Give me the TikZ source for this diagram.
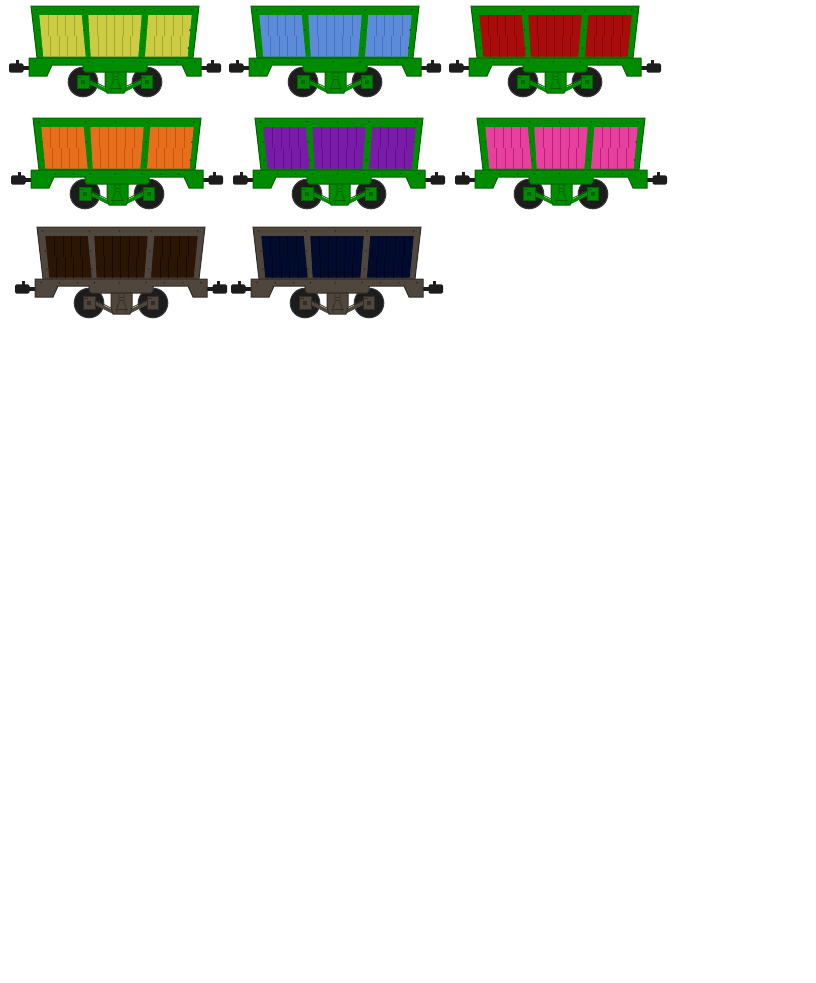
\documentclass[tikz,border=0pt]{standalone}
\usetikzlibrary{calc}
\definecolor{grn}{HTML}{008C00}
\definecolor{grnd}{HTML}{006400}
\definecolor{brn}{HTML}{4F463D}
\definecolor{brnd}{HTML}{332C26}
\definecolor{blk}{HTML}{1C1C1C}
\definecolor{blkr}{HTML}{3A3A3A}
\definecolor{yel}{RGB}{204,204,68}\definecolor{yeld}{RGB}{166,166,48}
\definecolor{blu}{RGB}{91,139,217}\definecolor{blud}{RGB}{72,112,184}
\definecolor{red}{RGB}{170,12,12}\definecolor{redd}{RGB}{132,8,8}
\definecolor{org}{RGB}{232,110,28}\definecolor{orgd}{RGB}{192,88,18}
\definecolor{pur}{RGB}{122,26,168}\definecolor{purd}{RGB}{94,16,136}
\definecolor{pnk}{RGB}{232,64,158}\definecolor{pnkd}{RGB}{184,32,122}
\definecolor{cho}{RGB}{43,21,5}\definecolor{chod}{RGB}{26,10,0}
\definecolor{nav}{RGB}{0,11,46}\definecolor{navd}{RGB}{0,5,24}
\tikzset{
  bodyst/.style={fill=wfr, draw=wfrd, line width=1pt, line join=miter},
  panelst/.style={fill=wpn},
  plankst/.style={draw=wpnd, line width=1pt},
  rivet/.style={fill=wfrd},
  wheelst/.style={fill=blk, draw=blkr, line width=1pt},
  bufst/.style={fill=blk},
}
\newcommand\wpanel[5]{%
  \fill[panelst] #1 -- #2 -- #3 -- #4 -- cycle;
  \coordinate (wm) at (0,29.8);
  \pgfmathtruncatemacro\wnm{#5-1}%
  \foreach \k in {1,...,\wnm}{%
    \pgfmathsetmacro\wf{\k/#5}%
    \coordinate (wa) at ($#1!\wf!#2$);
    \coordinate (wb) at ($#4!\wf!#3$);
    \coordinate (wu) at ($(wa)!0.25!(wb)$);
    \coordinate (wl) at ($(wa)!0.75!(wb)$);
    \draw[plankst] (wu |- wa) -- (wu |- wm) (wl |- wm) -- (wl |- wb);}%
}
\newcommand\rv[2]{\fill[rivet] (#1,#2-1) -- (#1+1,#2) -- (#1,#2+1) -- (#1-1,#2) -- cycle;}
\newcommand\wagon[6]{%
\begin{scope}[shift={(#1,#2)}]
  \colorlet{wfr}{#3}\colorlet{wfrd}{#4}\colorlet{wpn}{#5}\colorlet{wpnd}{#6}%
  % buffers
  \fill[bufst] (-8,59.7) rectangle (-2,64);
  \fill[bufst,rounded corners=1.5pt] (-22,57.3) rectangle (-7.5,66.7);
  \fill[bufst] (-15,54) rectangle (-11.7,58);
  \fill[bufst] (170,59.7) rectangle (176,64);
  \fill[bufst,rounded corners=1.5pt] (175.5,57.3) rectangle (190,66.7);
  \fill[bufst] (179.7,54) rectangle (183,58);
  % wheels
  \draw[wheelst] (52,76) circle (14.8);
  \draw[wheelst] (116,76) circle (14.8);
  % body
  \draw[bodyst] (0,0) -- (168,0) -- (162,52) -- (6,52) -- cycle;
  \wpanel{(8.3,9)}{(50.7,9)}{(54.7,50.7)}{(12.3,50.7)}{5}
  \wpanel{(57.3,9)}{(110.7,9)}{(107.3,50.7)}{(59.7,50.7)}{6}
  \wpanel{(117.3,9)}{(160.7,9)}{(156.7,50.7)}{(114,50.7)}{5}
  \foreach \x in {5.7,52.3,82.3,114,160.7}{\rv{\x}{4}}
  \foreach \x/\y in {8/24,9.5/42,53.5/24,55/42,113/24,111.5/42,159/24,157.5/42}{\rv{\x}{\y}}
  % frame
  \draw[bodyst] (-2,52) -- (170,52) -- (170,70) -- (156,70) -- (151,59) -- (116,59)
     -- (116,64) -- (114,66) -- (54,66) -- (52,64) -- (52,59) -- (21,59) -- (16,70)
     -- (-2,70) -- cycle;
  \foreach \x in {4,22.3,40.7,57.3,82.3,109,127.3,145.7,164}{\rv{\x}{55.7}}
  % arms
  \draw[wfr, line width=3.5pt] (57,75.5) -- (76,85);
  \draw[wfr, line width=3.5pt] (111,75.5) -- (92,85);
  \draw[wfrd, line width=0.7pt] (58,73) -- (77,82.5);
  \draw[wfrd, line width=0.7pt] (110,73) -- (91,82.5);
  % center piece
  \draw[bodyst] (74,66) -- (95,66) -- (95,81) -- (93,87) -- (76,87) -- (74,81) -- cycle;
  \draw[wfrd, line width=0.8pt] (82,67) -- (82,76) -- (80,80) -- (80,86);
  \draw[wfrd, line width=0.8pt] (87,67) -- (87,76) -- (89,80) -- (89,86);
  \draw[wfrd, line width=0.8pt] (83,70) -- (86,70) (83,73) -- (86,73) (78,82) -- (91,82);
  % axle boxes
  \draw[bodyst] (46.5,69) rectangle (58,82);
  \draw[bodyst] (110,69) rectangle (121.5,82);
  \fill[wfrd] (50,74) rectangle (54,78);
  \fill[wfrd] (114,74) rectangle (118,78);
  \draw[wfrd, line width=0.8pt] (47,71.5) -- (51,71.5) (111,71.5) -- (115,71.5);
\end{scope}}
\begin{document}
\begin{tikzpicture}[x=1pt,y=-1pt]
\fill[white] (0,0) rectangle (815,983);
\useasboundingbox (0,0) rectangle (815,983);
\wagon{31}{6}{grn}{grnd}{yel}{yeld}
\wagon{251}{6}{grn}{grnd}{blu}{blud}
\wagon{471}{6}{grn}{grnd}{red}{redd}
\wagon{33}{118}{grn}{grnd}{org}{orgd}
\wagon{255}{118}{grn}{grnd}{pur}{purd}
\wagon{477}{118}{grn}{grnd}{pnk}{pnkd}
\wagon{37}{227}{brn}{brnd}{cho}{chod}
\wagon{253}{227}{brn}{brnd}{nav}{navd}
\end{tikzpicture}
\end{document}
